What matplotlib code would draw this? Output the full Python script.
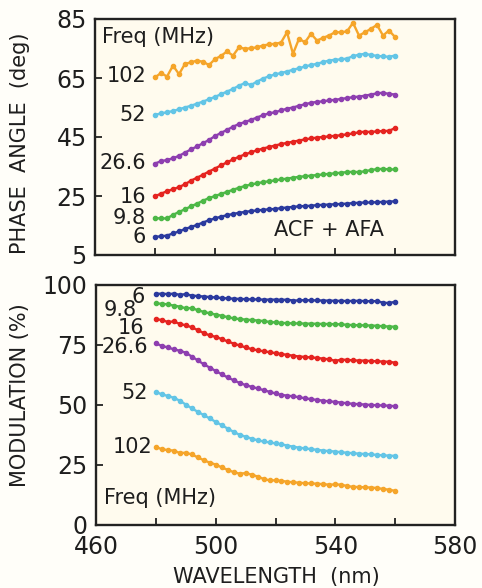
import numpy as np
import matplotlib
matplotlib.use("Agg")
import matplotlib.pyplot as plt
from matplotlib.ticker import MultipleLocator, FixedLocator

plt.rcParams['font.family'] = ['DejaVu Sans']

wavelength = list(range(480, 561, 2))

freq_labels = ["6", "9.8", "16", "26.6", "52", "102"]
colors = ["#2B3A9E", "#4DB847", "#E52420", "#8E3FB0", "#63C5E6", "#F5A52A"]

phase_6 = [11.2, 11.3, 11.6, 12.3, 13.0, 13.8, 14.5, 15.2, 16.0, 16.8, 17.4, 18.0, 18.5, 18.9, 19.3, 19.6,
           19.9, 20.1, 20.3, 20.5, 20.6, 20.9, 21.1, 21.3, 21.5, 21.6, 21.7, 21.9, 22.0, 22.1, 22.2, 22.3,
           22.4, 22.6, 22.7, 22.8, 22.8, 22.9, 23.0, 23.1, 23.2]
phase_9_8 = [17.5, 17.4, 17.4, 18.6, 19.6, 20.5, 21.5, 22.4, 23.4, 24.3, 25.0, 25.7, 26.4, 27.1, 27.8, 28.4,
             28.9, 29.3, 29.7, 30.0, 30.3, 30.6, 30.9, 31.2, 31.5, 31.7, 31.9, 32.1, 32.3, 32.5, 32.7, 32.9,
             33.1, 33.2, 33.1, 33.4, 33.8, 34.1, 34.2, 34.0, 34.0]
phase_16 = [24.9, 25.8, 26.6, 27.3, 28.0, 29.0, 30.2, 31.2, 32.2, 33.3, 34.3, 35.4, 36.4, 37.4, 38.3, 39.1,
            39.8, 40.5, 41.1, 41.6, 42.1, 42.6, 43.0, 43.4, 43.8, 44.2, 44.5, 44.8, 45.0, 45.2, 45.4, 45.6,
            45.9, 46.2, 46.6, 46.8, 46.7, 46.9, 47.0, 47.1, 48.0]
phase_26_6 = [36.0, 36.8, 37.2, 37.8, 38.6, 39.7, 40.8, 41.8, 42.9, 44.0, 45.3, 46.4, 47.4, 48.5, 49.4, 50.1,
              50.8, 51.6, 52.4, 53.0, 53.4, 54.0, 54.6, 55.0, 55.6, 56.1, 56.6, 56.9, 57.1, 57.4, 57.6, 57.9,
              58.2, 58.5, 58.7, 59.0, 59.4, 59.8, 60.0, 59.6, 59.4]
phase_52 = [52.5, 53.0, 53.4, 53.8, 54.4, 55.0, 55.6, 56.3, 57.0, 57.8, 58.6, 59.5, 60.4, 61.3, 62.4, 63.3,
            62.6, 63.8, 64.8, 65.6, 66.2, 66.7, 67.2, 67.8, 68.3, 68.9, 69.4, 69.8, 70.4, 70.9, 71.2, 71.3,
            71.6, 72.4, 72.9, 73.2, 72.8, 72.5, 72.3, 72.2, 72.6]
phase_102 = [65.2, 66.7, 65.5, 69.2, 66.3, 69.8, 70.3, 70.9, 70.5, 69.4, 71.4, 72.5, 74.0, 72.6, 75.4, 74.9,
             75.1, 75.4, 76.0, 76.4, 76.6, 77.0, 80.5, 73.2, 78.3, 77.1, 80.0, 77.7, 78.6, 79.4, 80.5, 80.5,
             80.8, 83.7, 79.4, 80.5, 81.7, 83.0, 79.4, 81.1, 78.9]

mod_6 = [96.3, 96.4, 96.2, 96.4, 95.9, 96.2, 95.6, 95.4, 95.2, 95.0, 94.8, 94.6, 94.4, 94.3, 94.2, 94.1,
         94.0, 94.0, 93.9, 93.9, 93.9, 93.8, 93.9, 93.5, 93.6, 93.7, 93.6, 93.6, 93.5, 93.5, 93.4, 93.4,
         93.3, 93.4, 93.4, 93.3, 93.2, 93.3, 92.6, 92.5, 93.0]
mod_9_8 = [92.3, 92.2, 91.9, 91.4, 91.0, 90.3, 90.4, 89.5, 88.8, 88.2, 87.7, 87.2, 86.6, 86.1, 85.8, 85.6,
           85.4, 85.2, 85.0, 84.6, 84.4, 84.2, 84.1, 84.0, 84.0, 83.9, 83.9, 83.8, 83.8, 83.7, 83.7, 83.6,
           83.4, 83.3, 83.2, 83.2, 83.1, 83.0, 82.8, 82.7, 82.6]
mod_16 = [85.8, 85.4, 84.6, 84.8, 83.8, 83.2, 82.4, 81.2, 80.0, 79.0, 78.4, 77.5, 76.5, 75.6, 74.8, 74.0,
          73.3, 72.8, 72.4, 72.0, 71.6, 71.2, 70.9, 70.5, 70.2, 70.0, 69.8, 69.6, 69.3, 69.0, 68.4, 68.9,
          68.8, 68.6, 68.5, 68.5, 68.3, 68.2, 68.1, 68.0, 67.6]
mod_26_6 = [75.7, 74.6, 74.0, 73.2, 72.6, 71.8, 70.2, 68.6, 67.0, 65.6, 64.2, 62.8, 61.5, 60.3, 59.2, 58.3,
            57.6, 56.9, 56.2, 55.5, 54.8, 54.2, 53.9, 53.6, 53.2, 52.8, 52.4, 52.1, 51.8, 51.5, 51.3, 51.0,
            50.7, 50.5, 50.3, 50.2, 50.0, 49.9, 49.8, 49.7, 49.5]
mod_52 = [55.5, 54.4, 53.8, 53.0, 51.8, 50.2, 48.6, 47.2, 45.8, 44.4, 43.0, 41.6, 40.2, 38.8, 37.6, 36.8,
          36.0, 35.3, 34.8, 34.4, 34.0, 33.6, 33.1, 32.6, 32.2, 31.9, 31.6, 31.3, 31.0, 30.8, 30.6, 30.3,
          30.1, 29.9, 29.7, 29.6, 29.4, 29.2, 29.0, 28.9, 28.8]
mod_102 = [32.5, 31.6, 31.2, 31.0, 30.0, 30.1, 29.4, 28.2, 27.0, 26.0, 25.2, 24.0, 23.0, 22.0, 21.4, 21.6,
           21.0, 20.2, 19.2, 18.6, 18.6, 18.4, 18.0, 17.8, 17.6, 17.4, 17.3, 17.2, 17.0, 16.8, 16.9, 16.8,
           16.2, 15.9, 15.8, 15.7, 15.6, 15.4, 15.0, 14.7, 14.2]

phase_series = [phase_6, phase_9_8, phase_16, phase_26_6, phase_52, phase_102]
mod_series = [mod_6, mod_9_8, mod_16, mod_26_6, mod_52, mod_102]

x_major = [460, 500, 540, 580]
x_minor = [480, 520, 560]
phase_ticks = [5, 25, 45, 65, 85]
mod_ticks = [0, 25, 50, 75, 100]

TXT = "#1e1e1e"
fig = plt.figure(figsize=(4.82, 5.88), dpi=100, facecolor="#FFFEF9")
ax1 = fig.add_axes([95/482, 1-255/588, 360/482, 236/588])
ax2 = fig.add_axes([96/482, 1-525/588, 359/482, 240/588])

for ax in (ax1, ax2):
    ax.set_facecolor("#FFFBEE")
    for s in ax.spines.values():
        s.set_linewidth(1.7)
        s.set_color("#222222")
    ax.set_xlim(460, 580)
    ax.xaxis.set_major_locator(FixedLocator(x_major))
    ax.xaxis.set_minor_locator(FixedLocator(x_minor))
    ax.tick_params(which="both", direction="in", length=5, width=1.3, color="#222222",
                   labelsize=17, labelcolor=TXT, pad=6)

for vals, c in zip(phase_series, colors):
    ax1.plot(wavelength, vals, color=c, lw=1.7, marker="o", ms=3.0, mec=c, mfc=c)
for vals, c in zip(mod_series, colors):
    ax2.plot(wavelength, vals, color=c, lw=1.7, marker="o", ms=3.0, mec=c, mfc=c)

ax1.set_ylim(5, 85)
ax1.set_yticks(phase_ticks)
ax1.tick_params(axis="x", labelbottom=False)
ax2.set_ylim(0, 100)
ax2.set_yticks(mod_ticks)
ax2.tick_params(axis="x", pad=7)

lab_fs = 15
# top panel labels
for txt, y in zip(freq_labels, [11.1, 17.6, 24.8, 36.3, 52.4, 65.6]):
    ax1.text(477, y, txt, ha="right", va="center", fontsize=lab_fs, color=TXT)
ax1.text(462.3, 79.0, "Freq (MHz)", ha="left", va="center", fontsize=lab_fs, color=TXT)
ax1.text(538, 13.5, "ACF + AFA", ha="center", va="center", fontsize=15, color=TXT)

# bottom panel labels
for txt, x, y in zip(freq_labels, [476.3, 473.7, 476.3, 477.3, 477.3, 478.7],
                     [95.0, 89.6, 82.0, 74.2, 55.0, 32.5]):
    ax2.text(x, y, txt, ha="right", va="center", fontsize=lab_fs, color=TXT)
ax2.text(462.7, 11.3, "Freq (MHz)", ha="left", va="center", fontsize=lab_fs, color=TXT)

fig.text(20/482, 1-143/588, "PHASE  ANGLE  (deg)", rotation=90, ha="center", va="center",
         fontsize=15, color=TXT)
fig.text(20/482, 1-395/588, "MODULATION (%)", rotation=90, ha="center", va="center",
         fontsize=15, color=TXT)
fig.text(276/482, 1-577/588, "WAVELENGTH  (nm)", ha="center", va="center",
         fontsize=15, color=TXT)

fig.savefig("out.png", dpi=100, facecolor=fig.get_facecolor())
